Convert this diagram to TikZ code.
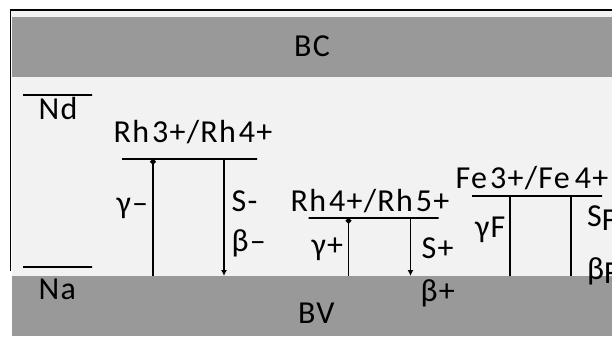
\documentclass[tikz,border=0pt]{standalone}
\usepackage{fontspec}
\setmainfont[LetterSpace=4]{Carlito}
\usepackage{xcolor}
\usetikzlibrary{positioning}
\usetikzlibrary{arrows.meta}
\definecolor{bandgray}{HTML}{999999}
\definecolor{bggray}{HTML}{F2F2F2}
\tikzstyle{band} = [rectangle, fill=bandgray, minimum width=600pt, minimum height=60pt, inner sep=0pt, outer sep=0pt]
\tikzstyle{level} = [rectangle, draw, line width=2pt, minimum height=0pt, inner sep=0pt, outer sep=0pt]
\tikzstyle{lbl} = [inner sep=0pt, anchor=base west, font=\fontsize{32}{36}\selectfont]
\tikzstyle{trans} = [line width=1.6pt]

\begin{document}
\begin{tikzpicture}[x=1pt, y=-1pt]
  \useasboundingbox (0,0) rectangle (612,340);
  \clip (0,0) rectangle (612,340);
  \fill[bggray] (12,11) rectangle (612,276);
  \draw[line width=1.5pt] (612,10) -- (10.5,10) -- (10.5,271);

  \node[band] (bc) at (312,47) {};
  \node[band] (bv) at (312,306) {};
  \node[lbl] (bctext) at (294,56) {BC};
  \node[lbl] (bvtext) at (298,323) {BV};

  \node[level, minimum width=69pt] (nd) at (57.5,95) {};
  \node[level, minimum width=69pt] (na) at (57.5,267) {};
  \node[lbl] (ndtext) at (38.5,119) {Nd};
  \node[lbl] (natext) at (38.5,299) {Na};

  \node[level, minimum width=135pt] (rh34) at (189.5,159) {};
  \node[level, minimum width=130pt] (rh45) at (373.5,218) {};
  \node[level, minimum width=130pt] (fe34) at (537,196) {};

  \node[lbl] (rh34text) at (113.5,142) {Rh\kern3pt 3+/Rh\kern3pt 4+};
  \node[lbl] (rh45text) at (290.5,211) {Rh\kern3pt 4+/Rh\kern3pt 5+};
  \node[lbl] (fe34text) at (455.5,188) {Fe\kern3pt 3+/Fe\kern5pt 4+};

  \node[lbl] (gm) at (116.5,213) {γ–};
  \node[lbl] (sm) at (231.5,211) {S-};
  \node[lbl] (bm) at (231.5,251) {β–};
  \node[lbl] (gp) at (311.5,255) {γ+};
  \node[lbl] (sp) at (421.5,258) {S+};
  \node[lbl] (bp) at (420.5,301) {β+};
  \node[lbl] (gf) at (475,237) {γF};
  \node[lbl] (sf) at (587,226) {S\raisebox{-4pt}{F}};
  \node[lbl] (bf) at (587,279) {β\raisebox{-4pt}{F}};

  \draw[trans, {Circle[length=5.5pt]}-] ([xshift=-36.5pt]rh34.center) -- ([xshift=-36.5pt]rh34.center |- bv.north);
  \draw[trans, -{Latex[length=6pt,width=6pt]}] ([xshift=34.5pt]rh34.center) -- ([xshift=34.5pt]rh34.center |- bv.north);
  \draw[trans, {Circle[length=5.5pt]}-] ([xshift=-25pt]rh45.center) -- ([xshift=-25pt]rh45.center |- bv.north);
  \draw[trans, -{Latex[length=6pt,width=6pt]}] ([xshift=37pt]rh45.center) -- ([xshift=37pt]rh45.center |- bv.north);
  \draw[trans] ([xshift=-27pt]fe34.center) -- ([xshift=-27pt]fe34.center |- bv.north);
  \draw[trans] ([xshift=34pt]fe34.center) -- ([xshift=34pt]fe34.center |- bv.north);
\end{tikzpicture}
\end{document}
